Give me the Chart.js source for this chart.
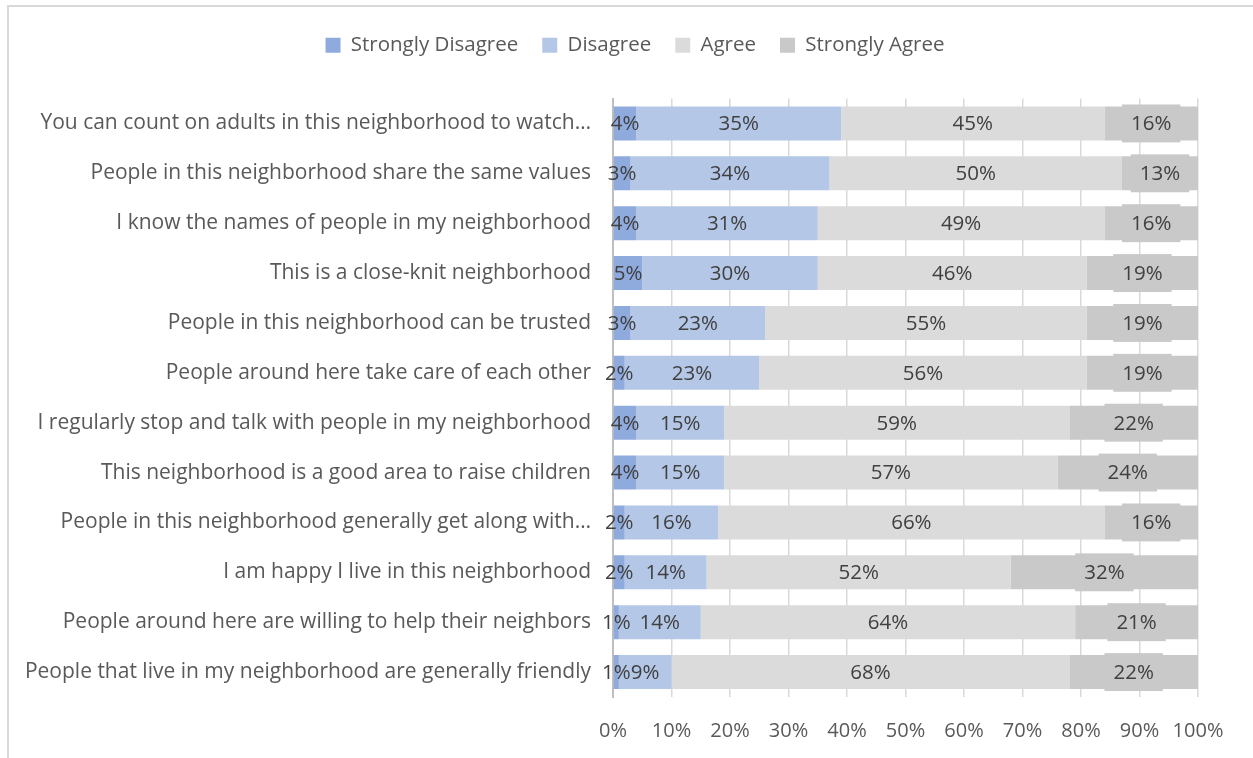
<!DOCTYPE html>
<html>
<head>
<meta charset="utf-8">
<script src="https://cdn.jsdelivr.net/npm/chart.js@4.4.1/dist/chart.umd.min.js"></script>
<style>
  html, body { margin: 0; padding: 0; background: #fff; }
  #frame {
    position: absolute; left: 7px; top: 5px; width: 1246px; height: 753px;
    border-left: 2px solid #D9D9D9; border-top: 2px solid #D9D9D9;
  }
  #wrap { position: absolute; left: 0; top: 0; width: 1253px; height: 758px; }
</style>
</head>
<body>
<div id="frame"></div>
<div id="wrap"><canvas id="surveyChart"></canvas></div>
<script>
const statements = [
  'You can count on adults in this neighborhood to watch…',
  'People in this neighborhood share the same values',
  'I know the names of people in my neighborhood',
  'This is a close-knit neighborhood',
  'People in this neighborhood can be trusted',
  'People around here take care of each other',
  'I regularly stop and talk with people in my neighborhood',
  'This neighborhood is a good area to raise children',
  'People in this neighborhood generally get along with…',
  'I am happy I live in this neighborhood',
  'People around here are willing to help their neighbors',
  'People that live in my neighborhood are generally friendly'
];

const stronglyDisagree = [4, 3, 4, 5, 3, 2, 4, 4, 2, 2, 1, 1];
const disagree         = [35, 34, 31, 30, 23, 23, 15, 15, 16, 14, 14, 9];
const agree            = [45, 50, 49, 46, 55, 56, 59, 57, 66, 52, 64, 68];
const stronglyAgree    = [16, 13, 16, 19, 19, 19, 22, 24, 16, 32, 21, 22];

const xTicks = [0, 10, 20, 30, 40, 50, 60, 70, 80, 90, 100];

const FONT = '"Open Sans", "Noto Sans", sans-serif';

// percentage labels centred on each segment; the last series gets a filled box
const segmentLabels = {
  id: 'segmentLabels',
  afterDatasetsDraw(chart) {
    const ctx = chart.ctx;
    ctx.save();
    ctx.font = '20.5px ' + FONT;
    ctx.textAlign = 'center';
    ctx.textBaseline = 'middle';
    chart.data.datasets.forEach((ds, di) => {
      const meta = chart.getDatasetMeta(di);
      meta.data.forEach((bar, i) => {
        const text = ds.data[i] + '%';
        const cx = (bar.x + bar.base) / 2;
        const cy = bar.y;
        if (ds.labelBox) {
          const w = ctx.measureText(text).width + 18;
          const h = bar.height + 4;
          ctx.fillStyle = ds.labelBox;
          ctx.fillRect(cx - w / 2, cy - h / 2, w, h);
        }
        ctx.fillStyle = '#404040';
        ctx.fillText(text, cx, cy + 1);
      });
    });
    ctx.restore();
  }
};

// legend: more room below it, and centred on the whole canvas instead of the plot
const legendPlacement = {
  id: 'legendPlacement',
  beforeInit(chart) {
    const fit = chart.legend.fit;
    chart.legend.fit = function () {
      fit.call(this);
      this.height += 33;
    };
  },
  afterLayout(chart) {
    const shift = 36;
    chart.legend.left += shift;
    chart.legend.right += shift;
  }
};

new Chart(document.getElementById('surveyChart'), {
  type: 'bar',
  data: {
    labels: statements,
    datasets: [
      { label: 'Strongly Disagree', data: stronglyDisagree, backgroundColor: '#8FAADC' },
      { label: 'Disagree', data: disagree, backgroundColor: '#B4C7E7' },
      { label: 'Agree', data: agree, backgroundColor: '#DBDBDB' },
      { label: 'Strongly Agree', data: stronglyAgree, backgroundColor: '#C9C9C9', labelBox: '#C9C9C9' }
    ]
  },
  options: {
    indexAxis: 'y',
    responsive: true,
    maintainAspectRatio: false,
    animation: false,
    barPercentage: 0.68,
    categoryPercentage: 1,
    layout: { padding: { left: 0, right: 55, top: 11, bottom: 0 } },
    plugins: {
      legend: {
        position: 'top',
        labels: {
          boxWidth: 15,
          boxHeight: 15,
          padding: 24,
          color: '#595959',
          font: { family: FONT, size: 20.5 }
        }
      },
      tooltip: { enabled: false }
    },
    scales: {
      x: {
        stacked: true,
        min: 0,
        max: 100,
        afterBuildTicks: axis => { axis.ticks = xTicks.map(v => ({ value: v })); },
        afterFit: axis => { axis.height = 61; },
        ticks: {
          callback: v => v + '%',
          color: '#595959',
          font: { family: FONT, size: 20 },
          padding: 22,
          maxRotation: 0
        },
        grid: { color: '#D9D9D9', lineWidth: 1.5, drawTicks: false },
        border: { display: false }
      },
      y: {
        stacked: true,
        afterFit: axis => { axis.width = 613; },
        ticks: {
          color: '#595959',
          font: { family: FONT, size: 21 },
          padding: 22,
          autoSkip: false
        },
        grid: { display: false, drawTicks: false },
        border: { display: true, color: '#BFBFBF', width: 2 }
      }
    }
  },
  plugins: [segmentLabels, legendPlacement]
});
</script>
</body>
</html>
